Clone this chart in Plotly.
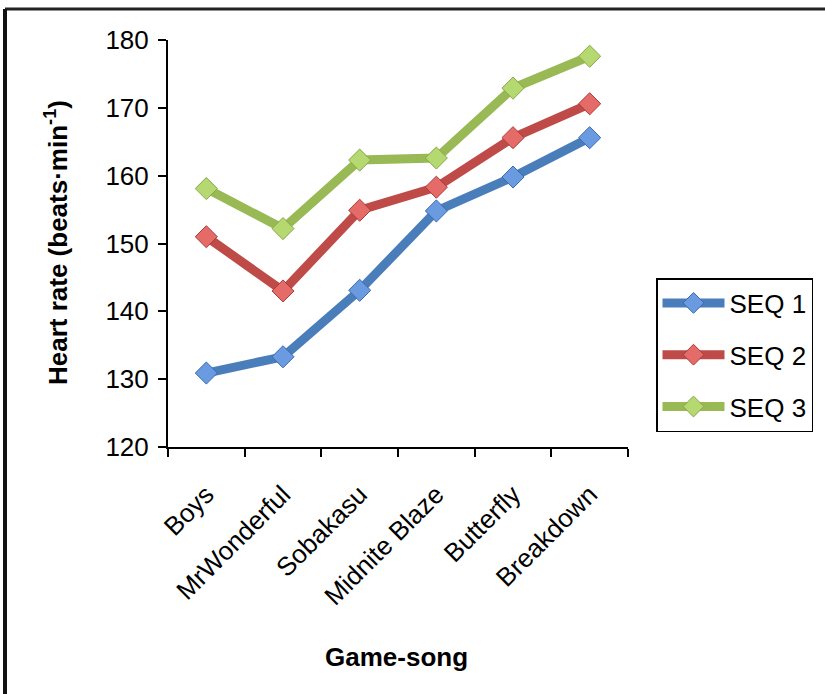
import plotly.graph_objects as go

categories = ["Boys", "MrWonderful", "Sobakasu", "Midnite Blaze", "Butterfly", "Breakdown"]
seq1 = [130.9, 133.3, 143.1, 154.8, 159.8, 165.6]
seq2 = [151.0, 143.0, 154.9, 158.3, 165.6, 170.6]
seq3 = [158.1, 152.2, 162.3, 162.6, 172.9, 177.6]
series_names = ["SEQ 1", "SEQ 2", "SEQ 3"]
y_ticks = [120, 130, 140, 150, 160, 170, 180]

line_colors = ["#4A7EBB", "#BE4B48", "#98B954"]
marker_colors = ["#6A9BE0", "#E46B67", "#B5D870"]
marker_edges = ["#3A6AAE", "#A83C3A", "#86A848"]

FONT = "Liberation Sans Narrow, Arial Narrow, Liberation Sans, Arial, sans-serif"

fig = go.Figure()
for name, vals, lc, mc, me in zip(series_names, [seq1, seq2, seq3], line_colors, marker_colors, marker_edges):
    fig.add_trace(go.Scatter(
        x=categories, y=vals, name=name, mode="lines+markers",
        legendgroup=name,
        line=dict(color=lc, width=9),
        marker=dict(symbol="diamond", size=17, color=mc, line=dict(color=me, width=1)),
    ))

W, H = 825, 694
L, R, T, B = 168, 628, 40, 447

def px(xp):
    return (xp - L) / (R - L)

def py(yp):
    return 1 - (yp - T) / (B - T)

fig.update_layout(
    width=W, height=H,
    margin=dict(l=L, r=W - R, t=T, b=H - B),
    paper_bgcolor="white", plot_bgcolor="white",
    font=dict(family=FONT, size=24, color="black"),
    showlegend=True,
    legend=dict(
        x=px(656), y=py(278), xanchor="left", yanchor="top",
        bordercolor="black", borderwidth=1.5, bgcolor="white",
        font=dict(family=FONT, size=26, color="black"),
        itemwidth=62, tracegroupgap=15, traceorder="grouped",
    ),
    xaxis=dict(
        type="category", tickson="boundaries", ticks="outside", ticklen=8, tickwidth=2,
        tickcolor="black", showline=True, linecolor="black", linewidth=2,
        showgrid=False, tickangle=-45, ticklabelstandoff=20,
        tickfont=dict(family=FONT, size=26, color="black"),
        range=[-0.5, 5.5],
    ),
    yaxis=dict(
        range=[120, 180], tickvals=y_ticks, ticks="outside", ticklen=8, tickwidth=2,
        tickcolor="black", showline=True, linecolor="black", linewidth=2,
        showgrid=False, zeroline=False, ticklabelstandoff=4,
        tickfont=dict(family=FONT, size=26, color="black"),
    ),
    annotations=[
        dict(text="<b>Heart rate (beats·min<sup>-1</sup>)</b>", xref="paper", yref="paper",
             x=px(56), y=py(243), xanchor="center", yanchor="middle",
             textangle=-90, showarrow=False,
             font=dict(family=FONT, size=26, color="black")),
        dict(text="<b>Game-song</b>", xref="paper", yref="paper",
             x=px(396), y=py(657), xanchor="center", yanchor="middle", showarrow=False,
             font=dict(family=FONT, size=26, color="black")),
    ],
    shapes=[
        dict(type="line", xref="paper", yref="paper", x0=px(5), x1=px(840), y0=py(9), y1=py(9),
             line=dict(color="#222222", width=3)),
        dict(type="line", xref="paper", yref="paper", x0=px(5), x1=px(5), y0=py(9), y1=py(710),
             line=dict(color="#111111", width=4)),
    ],
)

fig.write_html("out.html", config={"displayModeBar": False},
               post_script="document.body.style.margin='0';document.body.style.padding='0';")
